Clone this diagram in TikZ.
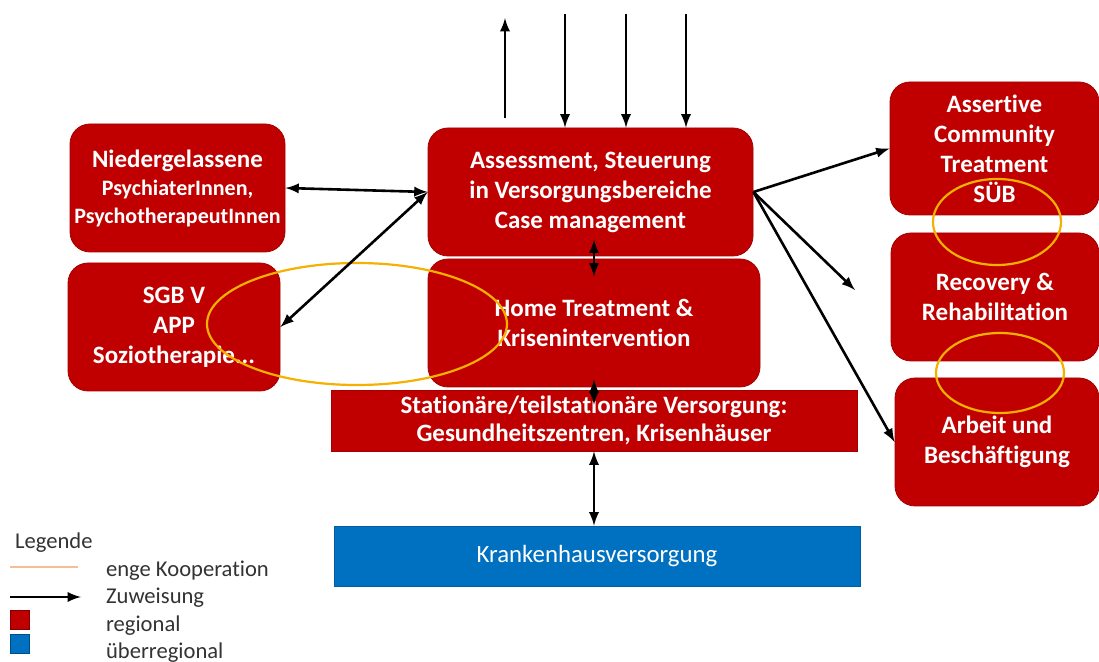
\documentclass[tikz,border=0pt]{standalone}
\usepackage{fontspec}
\setmainfont{Carlito}[Ligatures=NoCommon]
\usetikzlibrary{positioning,shapes,arrows,calc}
\definecolor{boxred}{RGB}{192,0,0}
\definecolor{boxblue}{RGB}{0,112,192}
\definecolor{koop}{RGB}{245,176,0}
\definecolor{koopleg}{RGB}{246,190,150}

\begin{document}
\begin{tikzpicture}[x=0.5pt, y=-0.5pt,
    regbox/.style={draw=boxred!85!black, line width=0.4pt, fill=boxred, rounded corners=10pt, text=white, align=center,
      font=\bfseries\fontsize{12.5}{15}\selectfont, inner sep=1pt},
    flatbox/.style={regbox, rounded corners=0pt},
    arr/.style={->, >=latex, line width=1.3pt},
    dbl/.style={<->, >=latex, line width=1.3pt},
    kooperation/.style={draw=koop, line width=1.1pt},
    legtext/.style={anchor=west, font=\fontsize{11.3}{13}\selectfont, text=black!80}]

  \useasboundingbox (0,0) rectangle (1099,662);

  % regional boxes
  \node (nied) [regbox, minimum width=107.5pt, minimum height=64pt] at (177.5,188)
    {Niedergelassene\\[-1pt]{\fontsize{11}{14}\selectfont PsychiaterInnen,}\\[-1pt]{\fontsize{11}{14}\selectfont PsychotherapeutInnen}};
  \node (sgb) [regbox, minimum width=106pt, minimum height=64pt] at (174,327) {SGB V\\APP\\Soziotherapie...};
  \node (assess) [regbox, minimum width=162.5pt, minimum height=64pt] at (590.5,192)
    {Assessment, Steuerung\\in Versorgungsbereiche\\Case management};
  \node (home) [regbox, minimum width=166pt, minimum height=64pt] at (594,323) {Home Treatment \&\\Krisenintervention};
  \node (stat) [flatbox, minimum width=263pt, minimum height=30.5pt] at (594,420.5)
    {Stationäre/teilstationäre Versorgung:\\[-1pt]Gesundheitszentren, Krisenhäuser};
  \node (act) [regbox, minimum width=104.5pt, minimum height=66.5pt] at (994.5,148.5)
    {Assertive\\Community\\Treatment\\SÜB};
  \node (recov) [regbox, minimum width=104pt, minimum height=64pt] at (995,297) {Recovery \&\\Rehabilitation};
  \node (arbeit) [regbox, minimum width=102pt, minimum height=64pt] at (997,442) {Arbeit und\\Beschäftigung};

  % ueberregional
  \node (kh) [flatbox, draw=boxblue!85!black, fill=boxblue, font=\fontsize{12.4}{15}\selectfont,
    minimum width=263pt, minimum height=30pt] at (597,556) {Krankenhausversorgung};

  % enge Kooperation
  \draw[kooperation] (357,324) ellipse (150 and 61);
  \draw[kooperation] (997,222) ellipse (64 and 43);
  \draw[kooperation] (1000,373) ellipse (64 and 40);

  % Zuweisung
  \coordinate (out1) at (505,18);
  \coordinate (in1) at (565,14);
  \coordinate (in2) at (626,14);
  \coordinate (in3) at (686,14);
  \coordinate (recfree) at (855,290);

  \draw[arr] ($(assess.north -| out1)+(0,-10)$) -- (out1);
  \draw[arr] (in1) -- (assess.north -| in1);
  \draw[arr] (in2) -- (assess.north -| in2);
  \draw[arr] (in3) -- (assess.north -| in3);

  \draw[dbl] (nied.east) -- (assess.west);
  \draw[dbl] (sgb.east) -- (assess.west);
  \draw[arr] (assess.east) -- (act.west);
  \draw[arr] (assess.east) -- (recfree);
  \draw[arr] (assess.east) -- (arbeit.west);

  \draw[dbl] ($(home.north)+(0,-19)$) -- ($(home.north)+(0,18)$);
  \draw[dbl] ($(home.south)+(0,-8)$) -- ($(stat.north)+(0,15)$);
  \draw[dbl] (stat.south) -- (stat.south |- kh.north);

  % Legende
  \node (legtitle) [legtext] at (8,543) {Legende};
  \coordinate (l1a) at (10,567);
  \coordinate (l1b) at (78,567);
  \coordinate (l2a) at (10,597);
  \coordinate (l2b) at (81,597);
  \draw[koopleg, line width=1pt] (l1a) -- (l1b);
  \draw[arr] (l2a) -- (l2b);
  \node (legred) [fill=boxred, draw=boxred!70!black, line width=0.3pt, minimum size=9.5pt, inner sep=0pt] at (19.5,620) {};
  \node (legblue) [fill=boxblue, draw=boxblue!70!black, line width=0.3pt, minimum size=9.5pt, inner sep=0pt] at (19.5,644) {};
  \node (leg1) [legtext] at (99,571) {enge Kooperation};
  \node (leg2) [legtext] at (99,598) {Zuweisung};
  \node (leg3) [legtext] at (99,626) {regional};
  \node (leg4) [legtext] at (99,653) {überregional};
\end{tikzpicture}
\end{document}
